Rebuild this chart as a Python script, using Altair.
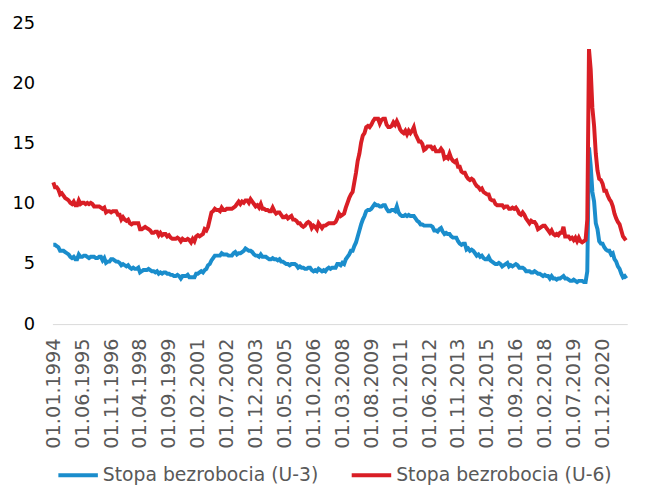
import altair as alt
import pandas as pd

# Monthly values, Jan 1994 - Feb 2022
u3 = (
    [6.6, 6.6, 6.5, 6.4, 6.1, 6.1, 6.1, 6.0, 5.9, 5.8, 5.6, 5.5]      # 1994
    + [5.6, 5.4, 5.4, 5.8, 5.6, 5.6, 5.7, 5.7, 5.6, 5.5, 5.6, 5.6]    # 1995
    + [5.6, 5.5, 5.5, 5.6, 5.6, 5.3, 5.5, 5.1, 5.2, 5.2, 5.4, 5.4]    # 1996
    + [5.3, 5.2, 5.2, 5.1, 4.9, 5.0, 4.9, 4.8, 4.9, 4.7, 4.6, 4.7]    # 1997
    + [4.6, 4.6, 4.7, 4.3, 4.4, 4.5, 4.5, 4.5, 4.6, 4.5, 4.4, 4.4]    # 1998
    + [4.3, 4.4, 4.2, 4.3, 4.2, 4.3, 4.3, 4.2, 4.2, 4.1, 4.1, 4.0]    # 1999
    + [4.0, 4.1, 4.0, 3.8, 4.0, 4.0, 4.0, 4.1, 3.9, 3.9, 3.9, 3.9]    # 2000
    + [4.2, 4.2, 4.3, 4.4, 4.3, 4.5, 4.6, 4.9, 5.0, 5.3, 5.5, 5.7]    # 2001
    + [5.7, 5.7, 5.7, 5.9, 5.8, 5.8, 5.8, 5.7, 5.7, 5.7, 5.9, 6.0]    # 2002
    + [5.8, 5.9, 5.9, 6.0, 6.1, 6.3, 6.2, 6.1, 6.1, 6.0, 5.8, 5.7]    # 2003
    + [5.7, 5.6, 5.8, 5.6, 5.6, 5.6, 5.5, 5.4, 5.4, 5.5, 5.4, 5.4]    # 2004
    + [5.3, 5.4, 5.2, 5.2, 5.1, 5.0, 5.0, 4.9, 5.0, 5.0, 5.0, 4.9]    # 2005
    + [4.7, 4.8, 4.7, 4.7, 4.6, 4.6, 4.7, 4.7, 4.5, 4.4, 4.5, 4.4]    # 2006
    + [4.6, 4.5, 4.4, 4.5, 4.4, 4.6, 4.7, 4.6, 4.7, 4.7, 4.7, 5.0]    # 2007
    + [5.0, 4.9, 5.1, 5.0, 5.4, 5.6, 5.8, 6.1, 6.1, 6.5, 6.8, 7.3]    # 2008
    + [7.8, 8.3, 8.7, 9.0, 9.4, 9.5, 9.5, 9.6, 9.8, 10.0, 9.9, 9.9]   # 2009
    + [9.8, 9.8, 9.9, 9.9, 9.6, 9.4, 9.4, 9.5, 9.5, 9.4, 9.8, 9.3]    # 2010
    + [9.1, 9.0, 9.0, 9.1, 9.0, 9.1, 9.0, 9.0, 9.0, 8.8, 8.6, 8.5]    # 2011
    + [8.3, 8.3, 8.2, 8.2, 8.2, 8.2, 8.2, 8.1, 7.8, 7.8, 7.7, 7.9]    # 2012
    + [8.0, 7.7, 7.5, 7.6, 7.5, 7.5, 7.3, 7.2, 7.2, 7.2, 6.9, 6.7]    # 2013
    + [6.6, 6.7, 6.7, 6.2, 6.3, 6.1, 6.2, 6.1, 5.9, 5.7, 5.8, 5.6]    # 2014
    + [5.7, 5.5, 5.4, 5.4, 5.6, 5.3, 5.2, 5.1, 5.0, 5.0, 5.1, 5.0]    # 2015
    + [4.8, 4.9, 5.0, 5.1, 4.8, 4.9, 4.8, 4.9, 5.0, 4.9, 4.7, 4.7]    # 2016
    + [4.7, 4.6, 4.4, 4.4, 4.4, 4.3, 4.3, 4.4, 4.3, 4.2, 4.2, 4.1]    # 2017
    + [4.0, 4.1, 4.0, 4.0, 3.8, 4.0, 3.8, 3.8, 3.7, 3.8, 3.8, 3.9]    # 2018
    + [4.0, 3.8, 3.8, 3.7, 3.6, 3.6, 3.7, 3.6, 3.5, 3.6, 3.6, 3.6]    # 2019
    + [3.5, 3.5, 4.4, 14.7, 13.2, 11.0, 10.2, 8.4, 7.9, 6.9, 6.7, 6.7]  # 2020
    + [6.4, 6.2, 6.1, 6.1, 5.8, 5.9, 5.4, 5.2, 4.8, 4.6, 4.2, 3.9]    # 2021
    + [4.0, 3.8]                                                      # 2022
)

u6 = (
    [11.8, 11.4, 11.4, 11.2, 10.8, 10.9, 10.7, 10.5, 10.4, 10.3, 10.1, 10.0]   # 1994
    + [10.2, 9.9, 9.9, 10.3, 10.0, 10.1, 10.1, 10.0, 10.1, 10.0, 10.1, 10.0]   # 1995
    + [9.8, 9.8, 9.8, 9.8, 9.7, 9.6, 9.7, 9.3, 9.4, 9.4, 9.3, 9.4]             # 1996
    + [9.4, 9.4, 9.1, 9.1, 8.7, 8.9, 8.7, 8.6, 8.7, 8.4, 8.3, 8.4]             # 1997
    + [8.4, 8.4, 8.4, 7.9, 7.9, 8.0, 8.1, 8.0, 7.9, 7.8, 7.6, 7.6]             # 1998
    + [7.7, 7.7, 7.4, 7.6, 7.4, 7.5, 7.5, 7.3, 7.4, 7.2, 7.1, 7.1]             # 1999
    + [7.1, 7.2, 7.1, 6.9, 7.1, 7.0, 7.0, 7.1, 7.0, 6.8, 7.1, 6.9]             # 2000
    + [7.3, 7.4, 7.3, 7.4, 7.5, 7.9, 7.8, 8.1, 8.7, 9.3, 9.4, 9.6]             # 2001
    + [9.5, 9.5, 9.4, 9.7, 9.5, 9.5, 9.6, 9.6, 9.6, 9.6, 9.7, 9.8]             # 2002
    + [10.0, 10.2, 10.0, 10.2, 10.1, 10.3, 10.3, 10.1, 10.4, 10.2, 10.0, 9.8]  # 2003
    + [9.9, 9.7, 10.0, 9.6, 9.6, 9.5, 9.5, 9.4, 9.4, 9.7, 9.4, 9.2]            # 2004
    + [9.3, 9.3, 9.1, 8.9, 8.9, 9.0, 8.8, 8.9, 9.0, 8.7, 8.7, 8.6]             # 2005
    + [8.4, 8.4, 8.2, 8.1, 8.2, 8.4, 8.5, 8.4, 8.0, 8.2, 8.1, 7.9]             # 2006
    + [8.4, 8.2, 8.0, 8.2, 8.2, 8.3, 8.4, 8.4, 8.4, 8.4, 8.5, 8.8]             # 2007
    + [9.2, 9.0, 9.1, 9.2, 9.7, 10.1, 10.5, 10.8, 11.0, 11.8, 12.6, 13.6]      # 2008
    + [14.2, 15.1, 15.7, 15.9, 16.4, 16.5, 16.4, 16.6, 16.9, 17.1, 17.1, 17.1] # 2009
    + [16.7, 17.0, 17.1, 17.1, 16.6, 16.4, 16.4, 16.5, 16.8, 16.6, 16.9, 16.6] # 2010
    + [16.2, 16.0, 15.9, 16.1, 15.8, 16.1, 15.9, 16.1, 16.4, 15.8, 15.5, 15.2] # 2011
    + [15.2, 15.0, 14.5, 14.6, 14.8, 14.8, 14.8, 14.6, 14.7, 14.4, 14.4, 14.4] # 2012
    + [14.6, 14.4, 13.8, 13.9, 13.8, 14.2, 13.8, 13.6, 13.5, 13.6, 13.1, 13.1] # 2013
    + [12.7, 12.6, 12.6, 12.3, 12.1, 12.0, 12.1, 12.0, 11.7, 11.5, 11.4, 11.2] # 2014
    + [11.3, 11.0, 10.9, 10.8, 10.8, 10.4, 10.3, 10.3, 10.0, 9.9, 9.9, 9.9]    # 2015
    + [9.9, 9.7, 9.8, 9.8, 9.6, 9.6, 9.7, 9.6, 9.7, 9.5, 9.2, 9.1]             # 2016
    + [9.3, 9.1, 8.8, 8.6, 8.4, 8.6, 8.5, 8.5, 8.3, 7.9, 8.0, 8.1]             # 2017
    + [8.2, 8.2, 8.0, 7.8, 7.6, 7.8, 7.5, 7.4, 7.5, 7.4, 7.6, 7.6]             # 2018
    + [8.1, 7.3, 7.3, 7.3, 7.1, 7.2, 7.0, 7.2, 6.9, 7.2, 6.9, 6.8]             # 2019
    + [6.9, 7.0, 8.7, 22.9, 21.2, 18.0, 16.5, 14.2, 12.8, 12.1, 12.0, 11.7]    # 2020
    + [11.1, 11.1, 10.7, 10.4, 10.2, 9.8, 9.2, 8.8, 8.5, 8.3, 7.8, 7.3]        # 2021
    + [7.1, 7.2]                                                               # 2022
)

n_points = len(u3)
dates = [f"01.{m:02d}.{y}" for y in range(1994, 2023) for m in range(1, 13)][:n_points]

tick_labels = [
    "01.01.1994", "01.06.1995", "01.11.1996", "01.04.1998", "01.09.1999",
    "01.02.2001", "01.07.2002", "01.12.2003", "01.05.2005", "01.10.2006",
    "01.03.2008", "01.08.2009", "01.01.2011", "01.06.2012", "01.11.2013",
    "01.04.2015", "01.09.2016", "01.02.2018", "01.07.2019", "01.12.2020",
]
y_ticks = [0, 5, 10, 15, 20, 25]

series_names = ["Stopa bezrobocia (U-3)", "Stopa bezrobocia (U-6)"]
series_colors = ["#1a8dcc", "#d91e25"]

df = pd.DataFrame({
    "date": dates + dates,
    "value": u3 + u6,
    "series": [series_names[0]] * n_points + [series_names[1]] * n_points,
})

chart = alt.Chart(df).mark_line(strokeWidth=4).encode(
    x=alt.X(
        "date:O",
        sort=None,
        scale=alt.Scale(type="point", padding=0.5),
        axis=alt.Axis(
            values=tick_labels,
            labelAngle=270,
            labelPadding=14,
            ticks=False,
            tickSize=0,
            domainColor="#d9d9d9",
            domainWidth=1,
            labelColor="#595959",
            labelFontSize=19.5,
            labelOverlap=False,
            labelLimit=0,
            grid=False,
            title=None,
        ),
    ),
    y=alt.Y(
        "value:Q",
        scale=alt.Scale(domain=[0, 25]),
        axis=alt.Axis(
            values=y_ticks,
            domain=False,
            ticks=False,
            tickSize=0,
            grid=False,
            labelPadding=18,
            labelColor="#000000",
            labelFontSize=18,
            title=None,
        ),
    ),
    color=alt.Color(
        "series:N",
        scale=alt.Scale(domain=series_names, range=series_colors),
        legend=alt.Legend(
            orient="none",
            legendX=4,
            legendY=435,
            direction="horizontal",
            title=None,
            symbolType="stroke",
            symbolSize=1600,
            symbolStrokeWidth=4,
            labelFontSize=19,
            labelColor="#595959",
            labelOffset=3,
            labelLimit=0,
            columnPadding=25,
        ),
    ),
).properties(
    width=582,
    height=304,
    padding={"left": 45, "top": 13, "right": 20, "bottom": 171},
    autosize="none",
    background="white",
).configure(
    font="DejaVu Sans",
).configure_view(
    stroke=None,
)

chart.save("out.html", embed_options={"renderer": "svg", "actions": False})
